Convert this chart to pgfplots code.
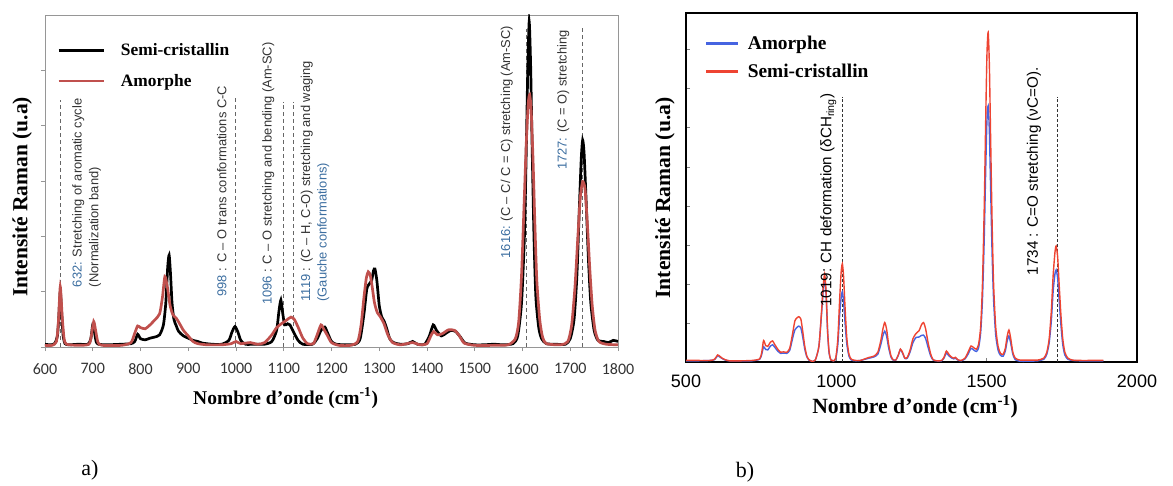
\documentclass[border=0pt]{standalone}
\usepackage{fontspec}
\setmainfont{Liberation Serif}
\newfontfamily\lsans{Liberation Sans}
\newfontfamily\carl{Carlito}
\usepackage{pgfplots}
\pgfplotsset{compat=1.18}
\definecolor{aRed}{RGB}{192,80,77}
\definecolor{aBlue}{RGB}{60,110,160}
\definecolor{aGray}{RGB}{150,150,150}
\definecolor{bBlue}{RGB}{70,100,225}
\definecolor{bRed}{RGB}{238,68,50}
\begin{document}
\begin{tikzpicture}
\useasboundingbox (0pt,0pt) rectangle (1173pt,485pt);
% ---------------- panel a ----------------
\begin{axis}[at={(45pt,138pt)}, anchor=south west, scale only axis,
  width=573pt, height=332pt,
  xmin=600, xmax=1800, ymin=0, ymax=6,
  xtick={600,700,...,1800}, ytick={0,1,...,5}, yticklabels={},
  tick align=outside, xtick pos=bottom, ytick pos=left,
  axis line style={aGray, line width=0.8pt},
  major tick style={aGray, line width=0.8pt}, major tick length=4pt,
  xticklabel style={font=\carl\fontsize{16}{16}\selectfont, text=black!80, yshift=-9pt},
  /pgf/number format/assume math mode=true, /pgf/number format/1000 sep={},
  xlabel={Nombre d’onde (cm\textsuperscript{-1})},
  xlabel style={font=\bfseries\fontsize{19.5}{20}\selectfont, at={(axis description cs:0.42,-0.154)}, anchor=center},
  ylabel={Intensité Raman (u.a)},
  ylabel style={font=\bfseries\fontsize{21.5}{22}\selectfont, at={(axis description cs:-0.04,0.452)}, anchor=center},
  legend style={at={(axis description cs:0.021,0.92)}, anchor=north west, draw=none, fill=none,
    font=\bfseries\fontsize{17.4}{18}\selectfont, row sep=13pt, inner sep=0pt},
  legend image code/.code={\draw[#1] (0pt,0pt) -- (45pt,0pt);},
  legend cell align=left,
  /tikz/every odd column/.append style={column sep=14pt},
]
\addplot[forget plot, black!60, line width=0.8pt, dash pattern=on 4pt off 3pt] coordinates {(633,0) (633,4.47)};
\addplot[forget plot, black!60, line width=0.8pt, dash pattern=on 4pt off 3pt] coordinates {(999,0) (999,4.52)};
\addplot[forget plot, black!60, line width=0.8pt, dash pattern=on 4pt off 3pt] coordinates {(1100,0) (1100,4.43)};
\addplot[forget plot, black!60, line width=0.8pt, dash pattern=on 4pt off 3pt] coordinates {(1120,0) (1120,4.43)};
\addplot[forget plot, black!60, line width=0.8pt, dash pattern=on 4pt off 3pt] coordinates {(1609,0) (1609,5.75)};
\addplot[forget plot, black!60, line width=0.8pt, dash pattern=on 4pt off 3pt] coordinates {(1725,0) (1725,5.79)};
\addplot[black, line width=2.7pt, smooth, tension=0.4] coordinates {
(600,0.05) (610,0.04) (620,0.06) (626,0.2) (629,0.55) (632,1.0) (635,0.6) (638,0.2) (642,0.06) (650,0.04)
(670,0.05) (690,0.05) (696,0.15) (700,0.40) (703,0.3) (707,0.1) (712,0.05) (730,0.04) (760,0.05) (780,0.06)
(788,0.1) (794,0.23) (800,0.15) (810,0.13) (820,0.16) (830,0.18) (840,0.22) (848,0.4) (853,0.8) (857,1.45)
(860,1.66) (863,1.3) (866,0.8) (870,0.5) (875,0.38) (880,0.28) (890,0.2) (900,0.16) (910,0.12) (920,0.1)
(930,0.07) (950,0.05) (970,0.05) (985,0.12) (992,0.28) (998,0.37) (1004,0.27) (1010,0.12) (1020,0.05) (1040,0.05)
(1060,0.05) (1075,0.1) (1085,0.3) (1090,0.65) (1094,0.85) (1098,0.6) (1102,0.4) (1108,0.42) (1113,0.4) (1120,0.28)
(1130,0.12) (1140,0.05) (1160,0.05) (1170,0.15) (1178,0.3) (1186,0.36) (1192,0.25) (1200,0.1) (1210,0.05) (1230,0.04)
(1250,0.05) (1260,0.15) (1268,0.6) (1274,1.05) (1280,1.15) (1284,1.2) (1288,1.38) (1291,1.41) (1295,1.2) (1300,0.75)
(1305,0.55) (1310,0.47) (1315,0.35) (1322,0.15) (1330,0.08) (1345,0.05) (1360,0.06) (1370,0.1) (1380,0.05) (1395,0.05)
(1405,0.2) (1413,0.4) (1420,0.3) (1430,0.2) (1440,0.25) (1450,0.3) (1460,0.28) (1470,0.18) (1480,0.07) (1500,0.04)
(1520,0.04) (1540,0.05) (1560,0.04) (1580,0.06) (1590,0.2) (1598,0.8) (1604,2.0) (1608,3.6) (1611,5.0) (1614,5.88)
(1617,5.1) (1620,3.7) (1624,2.0) (1628,0.9) (1634,0.35) (1640,0.15) (1650,0.06) (1670,0.05) (1690,0.05) (1700,0.15)
(1708,0.5) (1714,1.3) (1719,2.5) (1723,3.4) (1726,3.74) (1729,3.5) (1733,2.7) (1738,1.6) (1743,0.8) (1750,0.3)
(1758,0.12) (1770,0.1) (1780,0.08) (1790,0.12) (1800,0.1)};
\addlegendentry{Semi-cristallin}
\addplot[aRed, line width=2.7pt, smooth, tension=0.4] coordinates {
(600,0.03) (615,0.03) (624,0.1) (628,0.45) (632,1.09) (636,0.55) (640,0.15) (645,0.05) (670,0.03) (692,0.05)
(697,0.2) (702,0.46) (706,0.3) (711,0.08) (720,0.03) (760,0.03) (780,0.08) (788,0.25) (794,0.38) (800,0.35)
(810,0.33) (820,0.4) (830,0.49) (840,0.6) (846,0.9) (851,1.27) (856,1.1) (862,0.75) (868,0.58) (875,0.52)
(882,0.42) (890,0.3) (900,0.2) (910,0.1) (920,0.06) (940,0.04) (970,0.04) (990,0.06) (1000,0.1) (1010,0.06)
(1030,0.08) (1045,0.05) (1060,0.08) (1075,0.22) (1085,0.35) (1095,0.42) (1105,0.48) (1115,0.54) (1122,0.5) (1130,0.36)
(1140,0.16) (1150,0.06) (1162,0.06) (1170,0.22) (1178,0.40) (1184,0.32) (1192,0.2) (1200,0.08) (1215,0.03) (1240,0.03)
(1255,0.1) (1262,0.4) (1268,0.9) (1273,1.25) (1277,1.36) (1281,1.3) (1285,1.1) (1290,0.8) (1296,0.62) (1302,0.55)
(1310,0.42) (1318,0.22) (1328,0.08) (1345,0.04) (1370,0.08) (1385,0.04) (1400,0.06) (1408,0.2) (1414,0.28) (1422,0.22)
(1432,0.24) (1445,0.31) (1458,0.3) (1468,0.2) (1478,0.07) (1500,0.03) (1540,0.03) (1570,0.04) (1585,0.15) (1592,0.45)
(1598,1.3) (1603,2.5) (1608,3.7) (1612,4.4) (1615,4.56) (1618,4.3) (1622,3.4) (1626,2.2) (1630,1.2) (1636,0.5)
(1642,0.18) (1650,0.06) (1680,0.04) (1695,0.1) (1703,0.4) (1710,1.1) (1716,2.0) (1721,2.7) (1726,2.99) (1731,2.85)
(1736,2.2) (1741,1.4) (1746,0.75) (1752,0.3) (1760,0.1) (1775,0.05) (1800,0.04)};
\addlegendentry{Amorphe}
\begin{scope}[every node/.style={rotate=90, anchor=west, inner sep=0pt, font=\lsans\fontsize{12.9}{13}\selectfont, text=black!80}]
\node at (axis cs:669.7,1.08) {\textcolor{aBlue}{632:} Stretching of aromatic cycle};
\node at (axis cs:704.7,1.08) {(Normalization band)};
\node at (axis cs:970,0.91) {\textcolor{aBlue}{998} : C – O trans conformations C-C};
\node at (axis cs:1067.7,0.76) {\textcolor{aBlue}{1096} : C – O stretching and bending (Am-SC)};
\node at (axis cs:1148,0.82) {\textcolor{aBlue}{1119} : (C – H, C-O) stretching and waging};
\node at (axis cs:1183,0.82) {\textcolor{aBlue}{(Gauche conformations)}};
\node at (axis cs:1567,1.60) {\textcolor{aBlue}{1616:} (C – C/ C = C) stretching (Am-SC)};
\node at (axis cs:1685.5,3.20) {\textcolor{aBlue}{1727:} (C = O) stretching};
\end{scope}
\end{axis}
% ---------------- panel b ----------------
\begin{axis}[at={(686pt,123pt)}, anchor=south west, scale only axis,
  width=451pt, height=349pt,
  xmin=500, xmax=2000, ymin=0, ymax=8.94,
  xtick={500,1000,1500,2000}, ytick={0,1,...,8}, yticklabels={},
  tick align=inside, xtick pos=bottom, ytick pos=left,
  axis line style={black, line width=2pt},
  major tick style={black!50, line width=0.6pt}, major tick length=4pt,
  xticklabel style={font=\lsans\fontsize{18}{18}\selectfont, yshift=-9pt},
  /pgf/number format/assume math mode=true, /pgf/number format/1000 sep={},
  xlabel={Nombre d’onde (cm\textsuperscript{-1})},
  xlabel style={font=\bfseries\fontsize{21.7}{22}\selectfont, at={(axis description cs:0.508,-0.129)}, anchor=center},
  ylabel={Intensité Raman (u.a)},
  ylabel style={font=\bfseries\fontsize{21.6}{22}\selectfont, at={(axis description cs:-0.0466,0.47)}, anchor=center},
  legend style={at={(axis description cs:0.042,0.94)}, anchor=north west, draw=none, fill=none,
    font=\bfseries\fontsize{19.4}{20}\selectfont, row sep=9pt, inner sep=0pt},
  legend cell align=left,
  /tikz/every odd column/.append style={column sep=6pt},
]
\addplot[forget plot, densely dashed, black!80, line width=0.8pt] coordinates {(1019,0) (1019,6.8)};
\addplot[forget plot, densely dashed, black!80, line width=0.8pt] coordinates {(1734,0) (1734,6.8)};
\addplot[bBlue, line width=1.4pt, smooth, tension=0.4,
  legend image code/.code={\draw[bBlue, line width=2.6pt] (0pt,0pt) -- (32pt,0pt);}] coordinates {
(500,0.03) (540,0.03) (580,0.04) (595,0.06) (605,0.16) (612,0.13) (620,0.09) (630,0.05) (645,0.03) (680,0.03)
(720,0.03) (745,0.07) (752,0.2) (758,0.39) (765,0.32) (772,0.31) (780,0.4) (788,0.44) (795,0.38) (805,0.28)
(815,0.22) (825,0.23) (835,0.22) (845,0.3) (855,0.62) (862,0.82) (868,0.88) (875,0.92) (882,0.87) (888,0.65)
(895,0.33) (902,0.13) (910,0.04) (918,0.02) (930,0.05) (942,0.4) (950,1.15) (956,1.8) (961,2.12) (966,1.7)
(971,0.75) (976,0.22) (982,0.05) (990,0.03) (998,0.08) (1005,0.45) (1011,1.2) (1016,1.65) (1020,1.80) (1024,1.55)
(1029,1.0) (1035,0.45) (1042,0.15) (1050,0.05) (1065,0.03) (1080,0.04) (1095,0.07) (1110,0.1) (1125,0.13) (1138,0.2)
(1148,0.45) (1155,0.68) (1161,0.79) (1167,0.67) (1174,0.36) (1182,0.12) (1190,0.04) (1198,0.05) (1206,0.17) (1213,0.32)
(1220,0.23) (1228,0.09) (1236,0.1) (1245,0.25) (1255,0.5) (1265,0.63) (1275,0.64) (1283,0.68) (1290,0.69) (1297,0.6)
(1305,0.38) (1314,0.15) (1322,0.05) (1335,0.03) (1350,0.03) (1358,0.1) (1366,0.23) (1374,0.16) (1382,0.11) (1390,0.08)
(1396,0.1) (1404,0.05) (1415,0.03) (1428,0.08) (1438,0.2) (1448,0.35) (1458,0.3) (1466,0.27) (1473,0.36) (1480,0.75)
(1486,1.6) (1492,3.2) (1497,5.0) (1501,6.2) (1505,6.56) (1509,5.9) (1513,4.5) (1518,2.8) (1523,1.6) (1530,0.7)
(1538,0.3) (1546,0.17) (1555,0.15) (1562,0.28) (1568,0.53) (1574,0.67) (1580,0.48) (1587,0.2) (1595,0.06) (1610,0.02)
(1640,0.02) (1670,0.03) (1690,0.07) (1700,0.2) (1708,0.5) (1715,1.05) (1721,1.8) (1727,2.25) (1731,2.36) (1736,2.15)
(1741,1.6) (1747,0.95) (1753,0.45) (1760,0.18) (1770,0.07) (1785,0.04) (1810,0.03) (1850,0.03) (1888,0.03)};
\addlegendentry{Amorphe}
\addplot[bRed, line width=1.4pt, smooth, tension=0.4,
  legend image code/.code={\draw[bRed, line width=2.6pt] (0pt,0pt) -- (32pt,0pt);}] coordinates {
(500,0.04) (540,0.04) (580,0.04) (595,0.07) (605,0.18) (612,0.15) (620,0.1) (630,0.06) (645,0.03) (680,0.03)
(720,0.04) (745,0.08) (752,0.25) (758,0.55) (765,0.42) (772,0.40) (780,0.5) (788,0.54) (795,0.45) (805,0.33)
(815,0.25) (825,0.26) (835,0.25) (845,0.35) (855,0.75) (862,1.05) (868,1.12) (875,1.16) (882,1.1) (888,0.8)
(895,0.4) (902,0.15) (910,0.05) (918,0.02) (930,0.05) (942,0.4) (950,1.2) (956,1.9) (961,2.25) (966,1.8)
(971,0.8) (976,0.25) (982,0.05) (990,0.03) (998,0.1) (1005,0.6) (1011,1.6) (1016,2.3) (1020,2.52) (1024,2.2)
(1029,1.4) (1035,0.6) (1042,0.2) (1050,0.07) (1065,0.04) (1080,0.04) (1095,0.08) (1110,0.12) (1125,0.15) (1138,0.25)
(1148,0.55) (1155,0.85) (1161,1.01) (1167,0.85) (1174,0.45) (1182,0.15) (1190,0.05) (1198,0.05) (1206,0.18) (1213,0.33)
(1220,0.25) (1228,0.1) (1236,0.12) (1245,0.3) (1255,0.6) (1265,0.73) (1275,0.8) (1283,0.95) (1290,1.01) (1297,0.85)
(1305,0.5) (1314,0.2) (1322,0.06) (1335,0.03) (1350,0.04) (1358,0.12) (1366,0.28) (1374,0.2) (1382,0.13) (1390,0.1)
(1396,0.12) (1404,0.06) (1415,0.04) (1428,0.1) (1438,0.25) (1448,0.41) (1458,0.36) (1466,0.33) (1473,0.45) (1480,0.9)
(1486,2.0) (1492,4.0) (1497,6.3) (1501,7.9) (1505,8.45) (1509,7.6) (1513,5.8) (1518,3.6) (1523,2.0) (1530,0.9)
(1538,0.4) (1546,0.22) (1555,0.2) (1562,0.35) (1568,0.65) (1574,0.82) (1580,0.6) (1587,0.25) (1595,0.1) (1610,0.05)
(1640,0.05) (1670,0.05) (1690,0.1) (1700,0.25) (1708,0.6) (1715,1.3) (1721,2.2) (1727,2.8) (1731,2.97) (1736,2.7)
(1741,2.0) (1747,1.2) (1753,0.6) (1760,0.25) (1770,0.1) (1785,0.05) (1810,0.04) (1850,0.04) (1888,0.04)};
\addlegendentry{Semi-cristallin}
\begin{scope}[every node/.style={rotate=90, anchor=west, inner sep=0pt, font=\lsans\fontsize{15.2}{16}\selectfont, text=black}]
\node at (axis cs:973,1.41) {1019: CH deformation (δCH\textsubscript{ring})};
\node at (axis cs:1657,2.22) {1734 : C=O stretching (νC=O).};
\end{scope}
\end{axis}
\node[font=\fontsize{22}{22}\selectfont, inner sep=0pt] at (90pt,15pt) {a)};
\node[font=\fontsize{22}{22}\selectfont, inner sep=0pt] at (745pt,13pt) {b)};
\end{tikzpicture}
\end{document}
